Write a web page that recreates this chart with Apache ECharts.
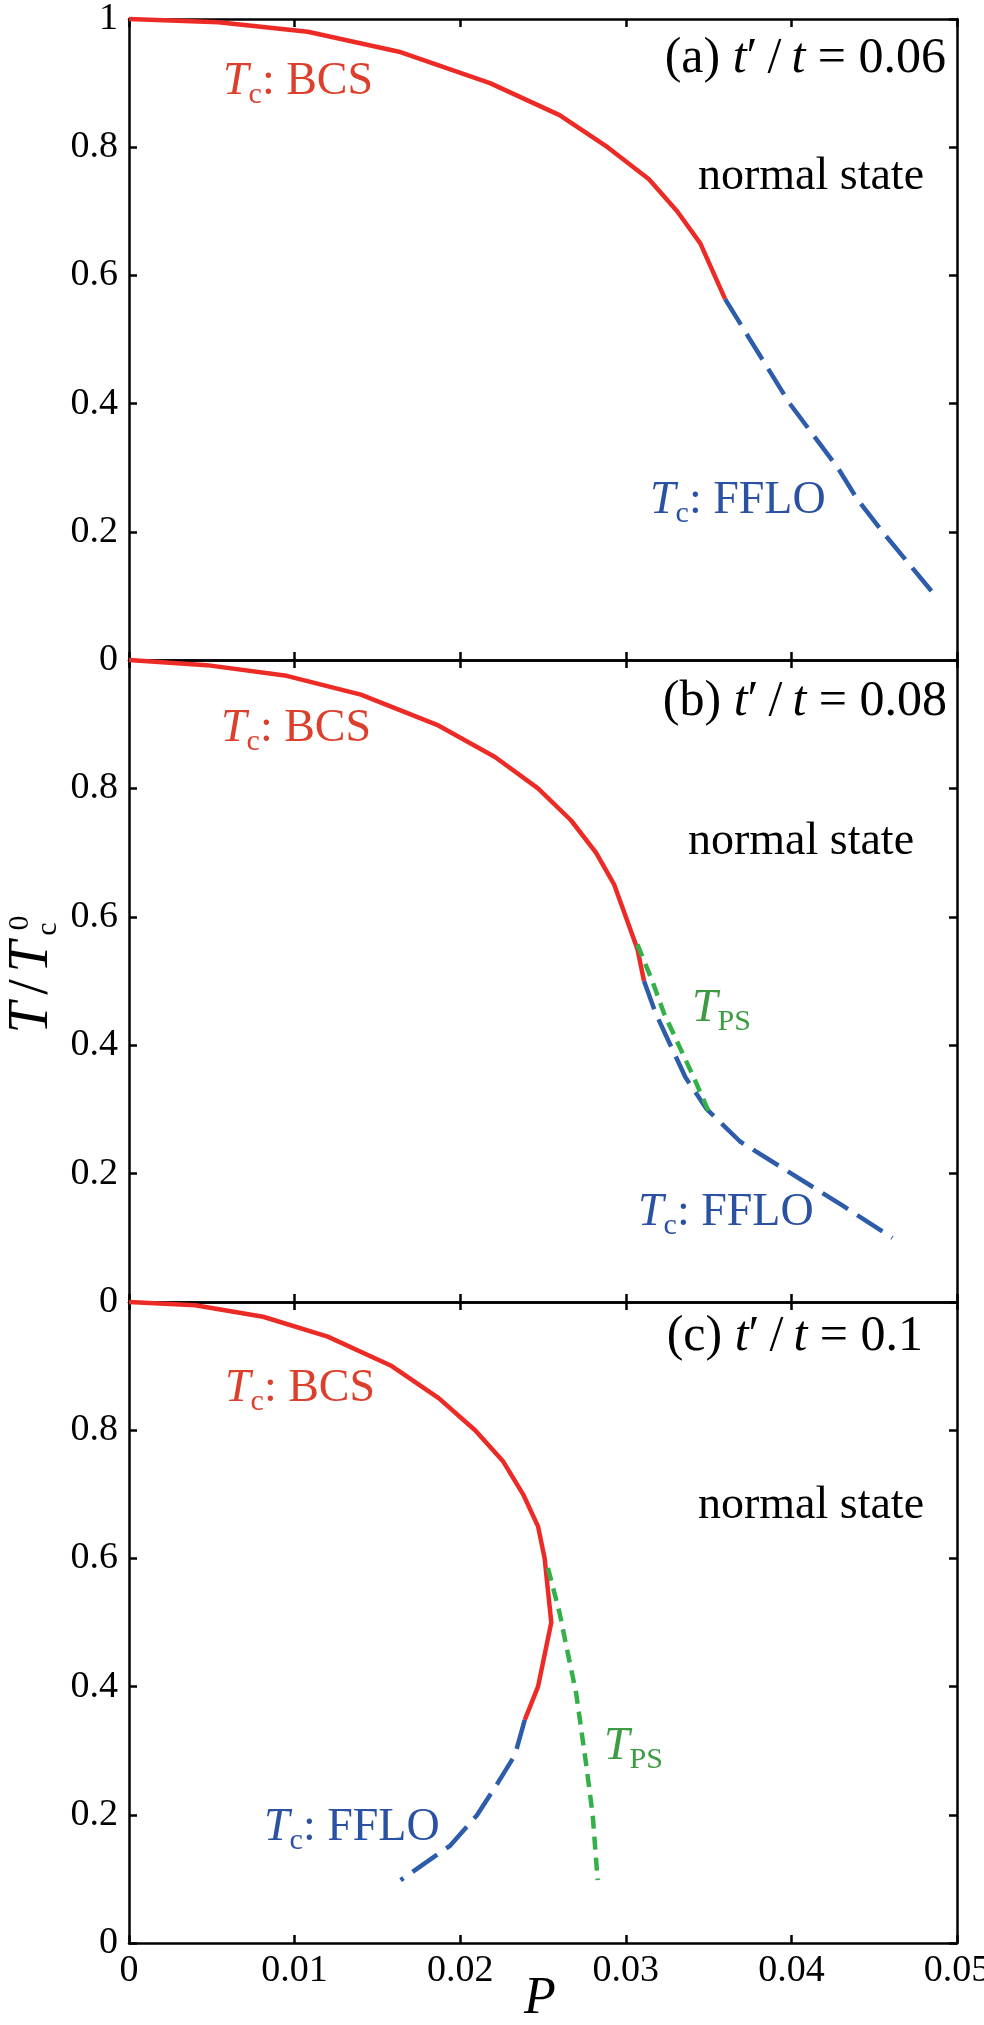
<!DOCTYPE html>
<html lang="en">
<head>
<meta charset="utf-8">
<title>Tc phase diagrams</title>
<script src="https://cdn.jsdelivr.net/npm/echarts@6/dist/echarts.min.js"></script>
<style>
  html, body { margin: 0; padding: 0; background: #fff; }
  #chart { width: 984px; height: 2025px; }
</style>
</head>
<body>
<div id="chart"></div>
<script>
// [P, T/Tc0] pairs
var bcsA  = [[0,1],[0.0054,0.995],[0.0108,0.980],[0.0163,0.949],[0.0218,0.900],[0.0260,0.850],[0.0289,0.800],[0.0314,0.750],[0.0331,0.700],[0.0345,0.650],[0.0360,0.563]];
var ffloA = [[0.0360,0.563],[0.0375,0.5],[0.0399,0.4],[0.0428,0.3],[0.0440,0.25],[0.0455,0.2],[0.0487,0.1]];

var bcsB  = [[0,1],[0.0047,0.992],[0.0094,0.976],[0.0140,0.946],[0.0186,0.899],[0.0221,0.849],[0.0247,0.800],[0.0267,0.750],[0.0282,0.700],[0.0293,0.650],[0.0300,0.6],[0.0307,0.55],[0.0311,0.5]];
var ffloB = [[0.0311,0.5],[0.0318,0.45],[0.0327,0.4],[0.0336,0.35],[0.0349,0.3],[0.0369,0.25],[0.0400,0.2],[0.0431,0.15],[0.0461,0.1]];
var psB   = [[0.0307,0.557],[0.0316,0.5],[0.0323,0.45],[0.0332,0.4],[0.0341,0.35],[0.0350,0.297]];

var bcsC  = [[0,1],[0.0040,0.995],[0.0081,0.977],[0.0120,0.946],[0.0158,0.901],[0.0187,0.850],[0.0209,0.800],[0.0226,0.751],[0.0238,0.700],[0.0247,0.650],[0.0251,0.6],[0.0253,0.55],[0.0255,0.5],[0.0251,0.45],[0.0247,0.4],[0.0239,0.348]];
var ffloC = [[0.0239,0.348],[0.0233,0.293],[0.0223,0.251],[0.0210,0.199],[0.0194,0.152],[0.0164,0.098]];
var psC   = [[0.0253,0.585],[0.0260,0.515],[0.0265,0.452],[0.0270,0.39],[0.0276,0.28],[0.0280,0.2],[0.0283,0.098]];

var panelTitles = ['(a) ', '(b) ', '(c) '];
var tRatios = ['0.06', '0.08', '0.1'];

var RED = '#ec2b26', BLUE = '#2c5caa', GREEN = '#33b049';
var SERIF = 'Liberation Serif';

// outerBoundsMode none: keep the plot boxes where they are even if '0.05' pokes out
var grids = [
  {left: 129, top: 19, width: 828, height: 641, outerBoundsMode: 'none', containLabel: false},
  {left: 129, top: 660, width: 828, height: 642, outerBoundsMode: 'none', containLabel: false},
  {left: 129, top: 1302, width: 828, height: 641, outerBoundsMode: 'none', containLabel: false}
];

var axisLine = {show: true, onZero: false, lineStyle: {color: '#000', width: 2.5}};
var axisTick = {show: true, inside: true, length: 8, lineStyle: {color: '#000', width: 2.5}};

var xAxes = [], yAxes = [];
grids.forEach(function (g, i) {
  xAxes.push({
    type: 'value', gridIndex: i, min: 0, max: 0.05, interval: 0.01, position: 'bottom',
    axisLine: axisLine, axisTick: axisTick, splitLine: {show: false},
    axisLabel: {show: i === 2, color: '#000', fontFamily: SERIF, fontSize: 38, margin: 9}
  });
  xAxes.push({
    type: 'value', gridIndex: i, min: 0, max: 0.05, interval: 0.01, position: 'top',
    axisLine: axisLine, axisTick: axisTick, splitLine: {show: false}, axisLabel: {show: false}
  });
  yAxes.push({
    type: 'value', gridIndex: i, min: 0, max: 1, interval: 0.2, position: 'left',
    axisLine: axisLine, axisTick: axisTick, splitLine: {show: false},
    axisLabel: {
      color: '#000', fontFamily: SERIF, fontSize: 38, margin: 11,
      formatter: function (v) { return (i > 0 && v === 1) ? '' : String(v); }
    }
  });
  yAxes.push({
    type: 'value', gridIndex: i, min: 0, max: 1, interval: 0.2, position: 'right',
    axisLine: axisLine, axisTick: axisTick, splitLine: {show: false}, axisLabel: {show: false}
  });
});

function curve(data, g, color, dash) {
  return {
    type: 'line', data: data, xAxisIndex: 2 * g, yAxisIndex: 2 * g,
    symbol: 'none', clip: false, animation: false, silent: true,
    lineStyle: {color: color, width: 4.5, type: dash || 'solid'}
  };
}

var series = [
  curve(bcsA, 0, RED), curve(ffloA, 0, BLUE, [30, 11]),
  curve(bcsB, 1, RED), curve(ffloB, 1, BLUE, [30, 11]), curve(psB, 1, GREEN, [13, 8]),
  curve(bcsC, 2, RED), curve(ffloC, 2, BLUE, [30, 11]), curve(psC, 2, GREEN, [13, 8])
];

function richSet(size) {
  return {
    i: {fontFamily: SERIF, fontStyle: 'italic', fontSize: size, lineHeight: size + 10, verticalAlign: 'middle'},
    n: {fontFamily: SERIF, fontSize: size, lineHeight: size + 10, verticalAlign: 'middle'},
    s: {fontFamily: SERIF, fontSize: 30, lineHeight: 30, verticalAlign: 'bottom'}
  };
}

function label(text, x, y, color, align, size) {
  size = size || 46;
  return {
    type: 'text', x: x, y: y, silent: true,
    style: {text: text, rich: richSet(size), fill: color, fontFamily: SERIF, fontSize: size, textAlign: align || 'left', verticalAlign: 'middle'}
  };
}

var graphics = [];
var titleRight = [946, 947, 923];
var titleY = [59, 702, 1337];
[0, 1, 2].forEach(function (i) {
  graphics.push(label('{n|' + panelTitles[i] + '}{i|t}{n|′\u2009/\u2009}{i|t}{n| = ' + tRatios[i] + '}', titleRight[i], titleY[i], '#000', 'right', 50));
});
graphics.push(label('{i|T}{s|c}{n|: BCS}', 223, 82, '#dc3f2c'));
graphics.push(label('{i|T}{s|c}{n|: BCS}', 221, 729, '#dc3f2c'));
graphics.push(label('{i|T}{s|c}{n|: BCS}', 225, 1389, '#dc3f2c'));
graphics.push(label('{n|normal state}', 811, 177, '#000', 'center'));
graphics.push(label('{n|normal state}', 801, 842, '#000', 'center'));
graphics.push(label('{n|normal state}', 811, 1506, '#000', 'center'));
graphics.push(label('{i|T}{s|c}{n|: FFLO}', 650, 501, '#2a51a2'));
graphics.push(label('{i|T}{s|c}{n|: FFLO}', 638, 1213, '#2a51a2'));
graphics.push(label('{i|T}{s|c}{n|: FFLO}', 264, 1828, '#2a51a2'));
graphics.push(label('{i|T}{s|PS}', 692, 1009, '#3d9c43'));
graphics.push(label('{i|T}{s|PS}', 604, 1747, '#3d9c43'));

// x axis name
graphics.push({
  type: 'text', x: 540, y: 1999, silent: true,
  style: {text: 'P', fontFamily: SERIF, fontStyle: 'italic', fontSize: 52, fill: '#000', textAlign: 'center', verticalAlign: 'middle'}
});

// y axis name T/Tc^0, rotated
function yPart(t, lx, ly, size, italic) {
  return {
    type: 'text', x: lx, y: ly, silent: true,
    style: {text: t, fontFamily: SERIF, fontStyle: italic ? 'italic' : 'normal', fontSize: size, fill: '#000', textAlign: 'center', verticalAlign: 'middle'}
  };
}
graphics.push({
  type: 'group', x: 32, y: 1037, rotation: Math.PI / 2, silent: true,
  children: [
    yPart('T', 19, 0, 56, true),
    yPart('/', 50, 0, 56, false),
    yPart('T', 80, 0, 56, true),
    yPart('0', 114, -12, 30, false),
    yPart('c', 108, 16, 30, false)
  ]
});

var chart = echarts.init(document.getElementById('chart'), null, {renderer: 'canvas'});
chart.setOption({
  animation: false,
  backgroundColor: '#fff',
  grid: grids,
  xAxis: xAxes,
  yAxis: yAxes,
  series: series,
  graphic: graphics
});
</script>
</body>
</html>
